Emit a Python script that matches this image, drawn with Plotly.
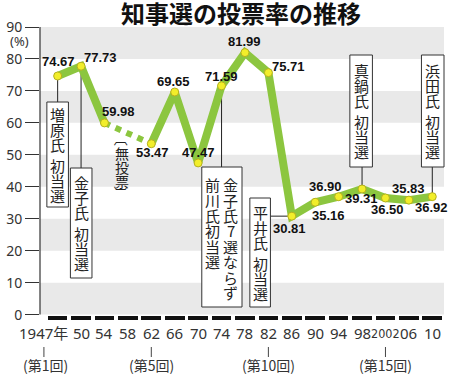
import plotly.graph_objects as go

# ---------------- data ----------------
year_labels = ["1947年", "50", "54", "58", "62", "66", "70", "74", "78", "82",
               "86", "90", "94", "98", "2002", "06", "10"]
turnout = [74.67, 77.73, 59.98, None, 53.47, 69.65, 47.47, 71.59, 81.99, 75.71,
           30.81, 35.16, 36.90, 39.31, 36.50, 35.83, 36.92]
ordinal_labels = {"1947年": "(第1回)", "62": "(第5回)", "82": "(第10回)", "2002": "(第15回)"}
y_ticks = [0, 10, 20, 30, 40, 50, 60, 70, 80, 90]
no_vote_label = "無投票"

# label offsets (px) relative to each point: (dx, dy) with dy positive = down
label_offsets = [(1, -14), (19, -9), (14, -11), None, (1, 9), (-1, -11), (0, -10),
                 (0, -9), (0, -11), (20, -6), (-2, 12), (13, 13), (-13, -10),
                 (-1, 10), (2, 12), (0, -12), (-1, 11)]

idx = list(range(len(year_labels)))

# ---------------- geometry ----------------
W, H = 450, 374
L, R, T, B = 32, 6, 27, 53
PW, PH = W - L - R, H - T - B
XR = [-0.754, 16.50]
YR = [-2, 90]

def px_x(px):
    return (px - L) / PW

def px_y(py):
    return 1 - (py - T) / PH

def dat_x(px):
    return XR[0] + (px - L) / PW * (XR[1] - XR[0])

def dat_y(py):
    return YR[1] - (py - T) / PH * (YR[1] - YR[0])

GREEN = "#8cc63f"
YELLOW = "#f2ee2a"
JP = "Noto Sans CJK JP"
TXT = "#222222"

fig = go.Figure()

# black dashes along the base
fig.add_trace(go.Bar(x=idx, y=[1.25] * len(idx), base=-1.75, width=0.84,
                     marker=dict(color="#111111", line=dict(width=0)),
                     hoverinfo="skip", showlegend=False))

# dotted segment across the no-vote election
fig.add_trace(go.Scatter(x=[idx[2], idx[4]], y=[turnout[2], turnout[4]], mode="lines",
                         line=dict(color=GREEN, width=6, dash="dot"),
                         hoverinfo="skip", showlegend=False))

# main line
fig.add_trace(go.Scatter(x=idx, y=turnout, mode="lines+markers",
                         line=dict(color=GREEN, width=8),
                         marker=dict(size=8, color=YELLOW, line=dict(color="#b5b020", width=1)),
                         connectgaps=False, hoverinfo="skip", showlegend=False))

shapes = []
annotations = []

# gray bands
for v in range(0, 90, 20):
    shapes.append(dict(type="rect", xref="paper", yref="y", x0=0, x1=1, y0=v, y1=v + 10,
                       fillcolor="#e9e9e9", line=dict(width=0), layer="below"))
# y axis line
shapes.append(dict(type="line", xref="paper", yref="y", x0=0, x1=0, y0=0, y1=90,
                   line=dict(color="#333333", width=1.2)))

# value labels
for i, v in enumerate(turnout):
    if v is None:
        continue
    ox, oy = label_offsets[i]
    annotations.append(dict(x=i, y=v, xref="x", yref="y", text=f"{v:.2f}",
                            showarrow=False, xshift=ox, yshift=-oy,
                            xanchor="center", yanchor="middle",
                            font=dict(family="Liberation Sans, Arial", size=13,
                                      color="#111111", weight="bold")))

def pann(cx, cy, text, size, family=JP, angle=0, color=TXT, weight="normal"):
    annotations.append(dict(x=px_x(cx), y=px_y(cy), xref="paper", yref="paper",
                            text=text, showarrow=False, xanchor="center", yanchor="middle",
                            textangle=angle,
                            font=dict(family=family, size=size, color=color, weight=weight)))

def vtext(cx, top, text, pitch=15.0, gap=7, size=15):
    y = top
    for ch in text:
        if ch == " ":
            y += gap
            continue
        pann(cx, y + pitch / 2, ch, size)
        y += pitch

def box(x0, x1, y0, y1):
    shapes.append(dict(type="rect", xref="paper", yref="paper",
                       x0=px_x(x0), x1=px_x(x1), y0=px_y(y0), y1=px_y(y1),
                       fillcolor="white", line=dict(color="#333333", width=1)))

def vline_to_point(i, y_px):
    shapes.append(dict(type="line", xref="x", yref="y", x0=i, x1=i,
                       y0=turnout[i], y1=dat_y(y_px), line=dict(color="#222222", width=1),
                       layer="below"))

def name_box(i, x0, x1, y0, y1, text, side):
    pitch, gap = 15.0, 6
    total = 6 * pitch + gap
    top = y0 + ((y1 - y0) - total) / 2
    if side == "top":
        vline_to_point(i, y0)
    elif side == "bottom":
        vline_to_point(i, y1)
    box(x0, x1, y0, y1)
    vtext((x0 + x1) / 2, top, text, pitch, gap)

name_box(0, 39, 61, 102, 207, "増原氏 初当選", "top")
name_box(1, 63, 85, 168, 278, "金子氏 初当選", "top")
name_box(13, 348, 371, 55, 167, "真鍋氏 初当選", "bottom")
name_box(16, 421, 444, 55, 167, "浜田氏 初当選", "bottom")

# 平井 box with horizontal connector
shapes.append(dict(type="line", xref="x", yref="y", x0=dat_x(267), x1=10,
                   y0=turnout[10], y1=turnout[10], line=dict(color="#222222", width=1),
                   layer="below"))
name_box(10, 246, 267, 198, 307, "平井氏 初当選", None)

# 1974 double box
vline_to_point(7, 167)
box(197, 238, 167, 307)
vtext(226.5, 177, "金子氏7選ならず", pitch=15.4, gap=0)
vtext(207.5, 177, "前川氏初当選", pitch=15.4, gap=0)

# 無投票 vertical note (brackets rotated into vertical form)
pann(115.5, 139, "〔", 14, angle=90)
vtext(115.5, 146, no_vote_label, pitch=14, gap=0, size=14)
pann(115.5, 193, "〕", 14, angle=90)

# x labels
for i, lab in enumerate(year_labels):
    shift = -14 if i == 0 else 0
    if lab == "2002":
        fnt = dict(family="Liberation Sans Narrow, DejaVu Sans Condensed", size=12.5, color="#333333")
    else:
        fnt = dict(family="Noto Sans, " + JP, size=15, color="#333333")
    annotations.append(dict(x=i, y=px_y(333), xref="x", yref="paper", text=lab,
                            showarrow=False, xshift=shift, xanchor="center", yanchor="middle",
                            font=fnt))
    if lab in ordinal_labels:
        tick_x = dat_x(36) if i == 0 else i
        shapes.append(dict(type="line", xref="x", yref="paper", x0=tick_x, x1=tick_x,
                           y0=px_y(347), y1=px_y(357),
                           line=dict(color="#444444", width=1)))
        annotations.append(dict(x=i, y=px_y(365), xref="x", yref="paper", text=ordinal_labels[lab],
                                showarrow=False, xshift=(-12 if i == 0 else 0),
                                xanchor="center", yanchor="middle",
                                font=dict(family=JP, size=14, color="#333333")))

# (%) label
pann(11, 41, "(%)", 13, family="Noto Sans", color="#333333")

# title
pann(237, 13, "知事選の投票率の推移", 24, color="#111111", weight="bold")

fig.update_layout(
    width=W, height=H,
    margin=dict(l=L, r=R, t=T, b=B),
    paper_bgcolor="white", plot_bgcolor="white",
    shapes=shapes, annotations=annotations,
    showlegend=False, bargap=0,
    xaxis=dict(range=XR, showgrid=False, zeroline=False, showticklabels=False,
               ticks="", showline=False, fixedrange=True),
    yaxis=dict(range=YR, tickvals=y_ticks, ticks="outside", ticklen=14, tickwidth=1,
               tickcolor="#333333", showgrid=False, zeroline=False, showline=False,
               fixedrange=True,
               tickfont=dict(family="Noto Sans", size=14, color="#333333")),
)

fig.write_html("out.html", config={"displayModeBar": False, "staticPlot": True},
               post_script="document.body.style.margin='0';document.body.style.padding='0';"
                           "document.documentElement.style.overflow='hidden';")
